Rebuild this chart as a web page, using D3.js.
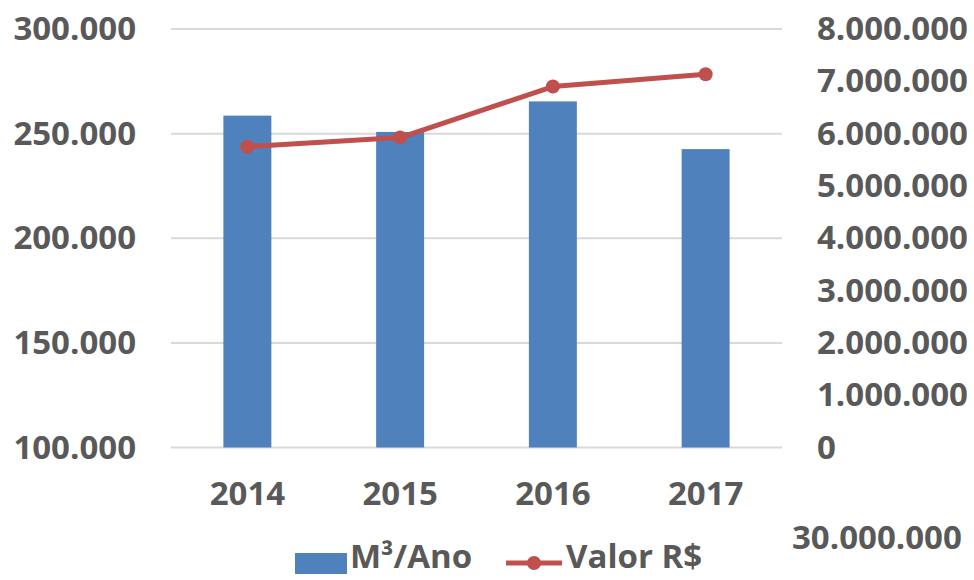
<!DOCTYPE html>
<html>
<head>
<meta charset="utf-8">
<script src="https://cdn.jsdelivr.net/npm/d3@7"></script>
<style>
  html, body { margin: 0; padding: 0; background: #fff; }
  svg text { font-family: "Open Sans", "Noto Sans", sans-serif; font-weight: 700; fill: #595959; }
</style>
</head>
<body>
<div id="chart"></div>
<script>
/* ---- data ---------------------------------------------------------- */
const years      = ['2014', '2015', '2016', '2017'];
const volume     = [258600, 250800, 265400, 242600];      // M³/Ano
const valueBRL   = [5750000, 5925000, 6900000, 7135000];  // Valor R$
const leftTicks  = [100000, 150000, 200000, 250000, 300000];
const rightTicks = [0, 1000000, 2000000, 3000000, 4000000, 5000000, 6000000, 7000000, 8000000];
const seriesNames = ['M³/Ano', 'Valor R$'];
const strayLabel = '30.000.000';

/* ---- setup --------------------------------------------------------- */
const W = 974, H = 580;
const plot = { left: 171, right: 782, top: 29, bottom: 447.5 };
const BLUE = '#4F81BD', RED = '#C0504D', GRID = '#d9d9d9';
const FS = '33px';

const fmt = d => d3.format(',')(d).replace(/,/g, '.');

const svg = d3.select('#chart').append('svg')
  .attr('width', W).attr('height', H);

const x = d3.scaleBand().domain(years)
  .range([plot.left, plot.right]).paddingInner(0.686).paddingOuter(0.343);
const yL = d3.scaleLinear().domain([100000, 300000]).range([plot.bottom, plot.top]);
const yR = d3.scaleLinear().domain([0, 8000000]).range([plot.bottom, plot.top]);

/* grid */
svg.append('g').selectAll('line')
  .data(leftTicks).join('line')
  .attr('x1', plot.left).attr('x2', plot.right)
  .attr('y1', d => yL(d)).attr('y2', d => yL(d))
  .attr('stroke', GRID).attr('stroke-width', 2);

/* axes */
const styleAxis = g => {
  g.select('.domain').remove();
  g.selectAll('line').remove();
  g.selectAll('text').style('font-size', FS).attr('fill', '#595959');
};

svg.append('g')
  .attr('transform', `translate(${plot.left},0)`)
  .call(d3.axisLeft(yL).tickValues(leftTicks).tickFormat(fmt).tickSize(0).tickPadding(35))
  .call(styleAxis);

svg.append('g')
  .attr('transform', `translate(${plot.right},0)`)
  .call(d3.axisRight(yR).tickValues(rightTicks).tickFormat(fmt).tickSize(0).tickPadding(35))
  .call(styleAxis);

svg.append('g')
  .attr('transform', `translate(0,${plot.bottom})`)
  .call(d3.axisBottom(x).tickSize(0).tickPadding(34))
  .call(styleAxis);

/* bars */
svg.append('g').selectAll('rect')
  .data(years).join('rect')
  .attr('x', d => x(d))
  .attr('width', x.bandwidth())
  .attr('y', (d, i) => yL(volume[i]))
  .attr('height', (d, i) => plot.bottom - yL(volume[i]))
  .attr('fill', BLUE);

/* line */
const pts = years.map((d, i) => [x(d) + x.bandwidth() / 2, yR(valueBRL[i])]);
svg.append('path')
  .attr('d', d3.line()(pts))
  .attr('fill', 'none').attr('stroke', RED)
  .attr('stroke-width', 5).attr('stroke-linejoin', 'round');
svg.append('g').selectAll('circle')
  .data(pts).join('circle')
  .attr('cx', d => d[0]).attr('cy', d => d[1]).attr('r', 7)
  .attr('fill', RED);

/* stray label */
svg.append('text')
  .attr('x', 792).attr('y', 537).attr('dy', '0.35em')
  .style('font-size', FS).text(strayLabel);

/* legend */
const lg = svg.append('g').style('font-size', FS);
lg.append('rect').attr('x', 295).attr('y', 553).attr('width', 52).attr('height', 21).attr('fill', BLUE);
lg.append('text').attr('x', 350).attr('y', 556).attr('dy', '0.35em').text(seriesNames[0]);
lg.append('line').attr('x1', 506).attr('x2', 562).attr('y1', 563).attr('y2', 563)
  .attr('stroke', RED).attr('stroke-width', 5);
lg.append('circle').attr('cx', 534).attr('cy', 563).attr('r', 7).attr('fill', RED);
lg.append('text').attr('x', 566).attr('y', 556).attr('dy', '0.35em').text(seriesNames[1]);
</script>
</body>
</html>
